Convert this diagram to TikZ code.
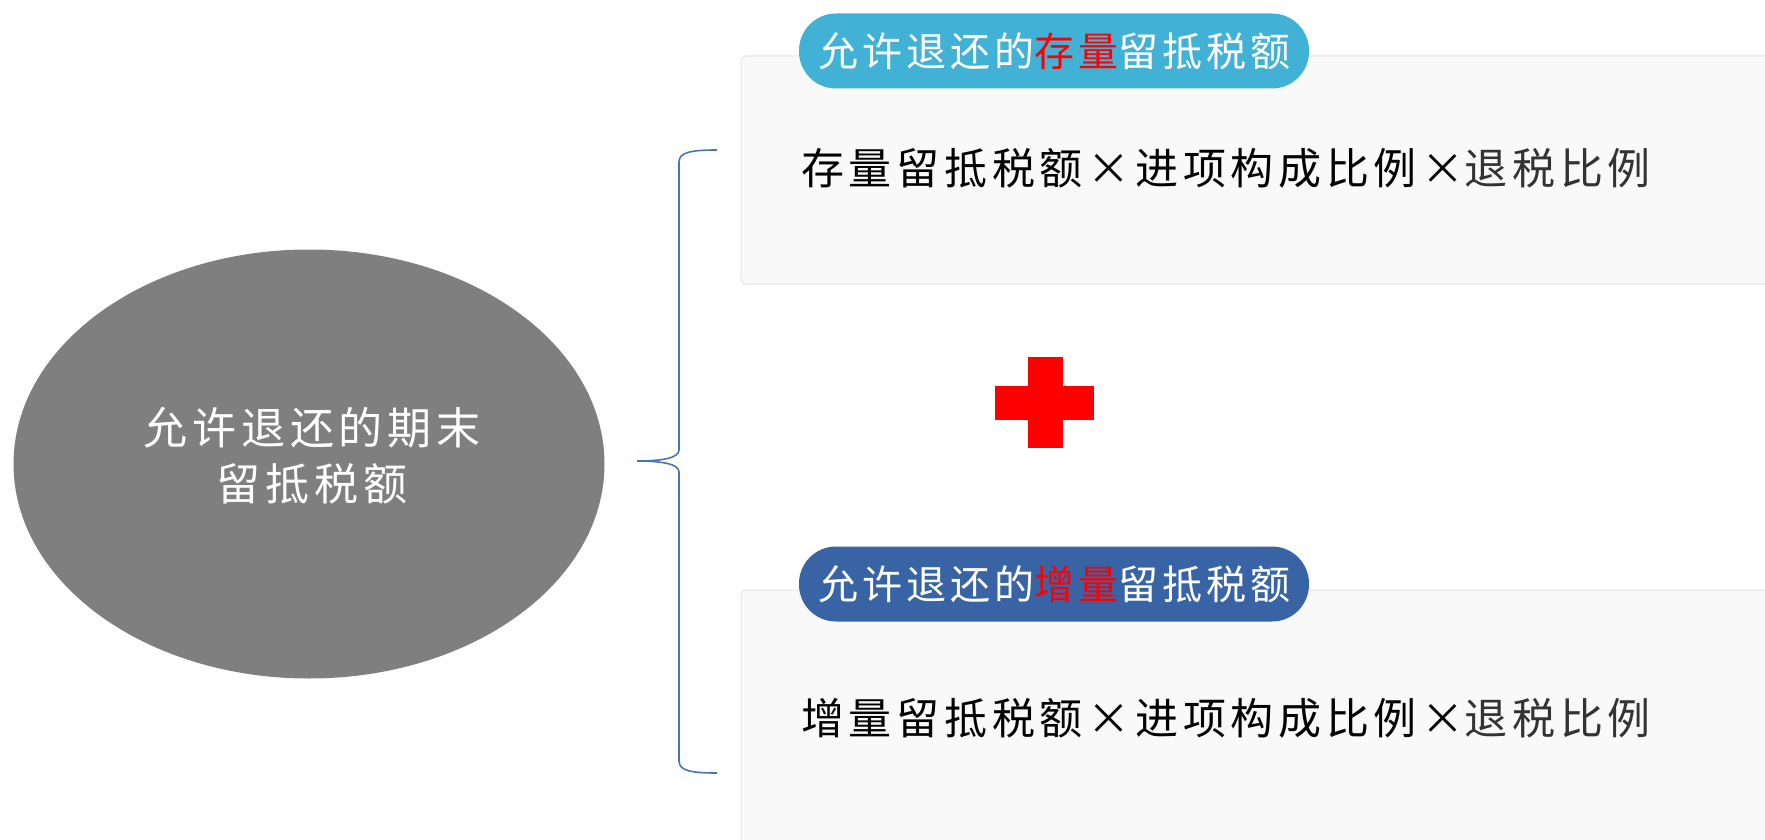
\documentclass[tikz,border=0pt]{standalone}
\usepackage{fontspec}
\usetikzlibrary{shapes.geometric}
\setmainfont{Noto Sans CJK SC}
\newfontfamily\ellfont[LetterSpace=11]{Noto Sans CJK SC}
\newfontfamily\pillfont[LetterSpace=10]{Noto Sans CJK SC}
\newfontfamily\formfont[LetterSpace=11]{Noto Sans CJK SC}
\definecolor{ellgray}{HTML}{7F7F7F}
\definecolor{pillA}{HTML}{41B2D6}
\definecolor{pillB}{HTML}{3864A6}
\definecolor{bracecol}{HTML}{4A72B8}
\definecolor{boxfill}{HTML}{F9F9F9}
\definecolor{boxline}{HTML}{E4E4E4}
\definecolor{crossred}{HTML}{FF0000}
\definecolor{darktext}{HTML}{333333}
\tikzset{
  panel/.style={draw=boxline, fill=boxfill, line width=1pt, rounded corners=5pt},
  pill/.style={minimum width=510pt, minimum height=75pt, rounded corners=37pt, inner sep=0pt, text=white, font=\pillfont\fontsize{40}{48}\selectfont},
  formula/.style={anchor=west, inner sep=0pt, font=\formfont\fontsize{43}{50}\selectfont},
  bracestyle/.style={draw=bracecol, line width=1.6pt}
}
\begin{document}
\begin{tikzpicture}[x=1pt,y=-1pt]
\clip (0,0) rectangle (1765,840);
\fill[white] (0,0) rectangle (1765,840);
% panels
\draw[panel] (741,56) rectangle (1790,284);
\draw[panel] (741,590) rectangle (1790,880);
% ellipse
\node[ellipse, fill=ellgray, minimum width=591pt, minimum height=429pt, inner sep=0pt] (ell) at (309,464) {};
\node[text=white, align=center, inner sep=0pt, font=\ellfont\fontsize{44}{56}\selectfont] (elltext) at (312,456) {允许退还的期末\\留抵税额};
% pills
\node[pill, fill=pillA] (pilltop) at (1054,51) {允许退还的\textcolor{crossred}{存量}留抵税额};
\node[pill, fill=pillB] (pillbot) at (1054,584) {允许退还的\textcolor{crossred}{增量}留抵税额};
% formulas
\node[formula] (formtop) at (801,168) {存量留抵税额×进项构成比例×\textcolor{darktext}{退税比例}};
\node[formula] (formbot) at (801,718) {增量留抵税额×进项构成比例×\textcolor{darktext}{退税比例}};
% plus sign
\fill[crossred] (1028,357) rectangle (1063,448);
\fill[crossred] (995,386) rectangle (1094,420);
% brace
\coordinate (btop) at (717,150);
\coordinate (btip) at (637,461);
\coordinate (bbot) at (717,773);
\draw[bracestyle] (btop) .. controls (692,150) and (679,152) .. (679,162) -- (679,450)
  .. controls (679,458) and (662,461) .. (btip)
  .. controls (662,461) and (679,464) .. (679,472) -- (679,761)
  .. controls (679,771) and (692,773) .. (bbot);
\end{tikzpicture}
\end{document}
